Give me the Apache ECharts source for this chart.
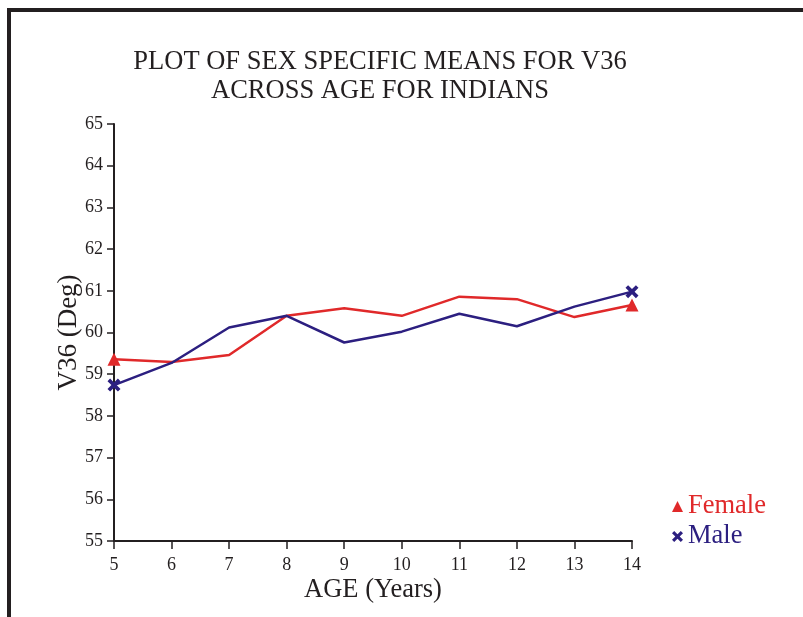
<!DOCTYPE html>
<html>
<head>
<meta charset="utf-8">
<script src="https://cdn.jsdelivr.net/npm/echarts@6/dist/echarts.min.js"></script>
<style>
html,body{margin:0;padding:0;background:#fff;}
#main{width:803px;height:617px;}
</style>
</head>
<body>
<div id="main"></div>
<script>
const ages = [5, 6, 7, 8, 9, 10, 11, 12, 13, 14];
const female = [59.36, 59.29, 59.46, 60.40, 60.58, 60.40, 60.86, 60.80, 60.37, 60.66];
const male = [58.74, 59.27, 60.12, 60.40, 59.76, 60.02, 60.45, 60.15, 60.62, 60.98];
const yTicks = [55, 56, 57, 58, 59, 60, 61, 62, 63, 64, 65];

const RED = '#e0292a';
const BLUE = '#2c1f80';
const FONT = '"Liberation Serif", "Times New Roman", serif';
const XSYM = 'path://M2,0 L5,3 L8,0 L10,2 L7,5 L10,8 L8,10 L5,7 L2,10 L0,8 L3,5 L0,2 Z';

function build(vals, sym, size) {
  return vals.map((v, i) => {
    const end = (i === 0 || i === vals.length - 1);
    return { value: [ages[i], v], symbol: end ? sym : 'none', symbolSize: end ? size : 0 };
  });
}

const chart = echarts.init(document.getElementById('main'), null, { renderer: 'canvas' });
chart.setOption({
  animation: false,
  backgroundColor: '#fff',
  textStyle: { fontFamily: FONT },
  title: {
    text: 'PLOT OF SEX SPECIFIC MEANS FOR V36\nACROSS AGE FOR INDIANS',
    left: 375, top: 43, textAlign: 'center',
    textStyle: { fontFamily: FONT, fontSize: 26.5, fontWeight: 'normal', color: '#231f20', lineHeight: 29 }
  },
  graphic: [{
    type: 'polyline',
    shape: { points: [[9, 640], [9, 10], [820, 10]] },
    style: { stroke: '#231f20', lineWidth: 4, fill: null }
  }],
  legend: {
    orient: 'vertical', left: 667, top: 488,
    itemWidth: 11, itemHeight: 11, itemGap: 3,
    data: [
      { name: 'Female', icon: 'triangle', itemStyle: { color: RED }, textStyle: { color: RED } },
      { name: 'Male', icon: XSYM, itemStyle: { color: BLUE }, textStyle: { color: BLUE } }
    ],
    textStyle: { fontFamily: FONT, fontSize: 26.5 }
  },
  grid: { left: 114, right: 171, top: 124, bottom: 76 },
  xAxis: {
    type: 'value', min: 5, max: 14, interval: 1,
    name: 'AGE (Years)', nameLocation: 'middle', nameGap: 36, nameMoveOverlap: false,
    nameTextStyle: { fontFamily: FONT, fontSize: 26.5, color: '#231f20' },
    axisLine: { lineStyle: { color: '#231f20', width: 2 } },
    axisTick: { length: 8, lineStyle: { color: '#231f20', width: 1.5 } },
    axisLabel: { fontFamily: FONT, fontSize: 18, color: '#231f20', margin: 15 },
    splitLine: { show: false }
  },
  yAxis: {
    type: 'value', min: 55, max: 65, interval: 1,
    name: 'V36 (Deg)', nameLocation: 'middle', nameGap: 32, nameMoveOverlap: false,
    nameTextStyle: { fontFamily: FONT, fontSize: 27, color: '#231f20' },
    axisLine: { show: true, lineStyle: { color: '#231f20', width: 2 } },
    axisTick: { show: true, length: 7, lineStyle: { color: '#231f20', width: 1.5 } },
    axisLabel: { fontFamily: FONT, fontSize: 18, color: '#231f20', margin: 11,
      formatter: v => yTicks.includes(v) ? String(v) : '' },
    splitLine: { show: false }
  },
  series: [
    { name: 'Female', type: 'line', data: build(female, 'triangle', 13),
      lineStyle: { color: RED, width: 2.5 }, itemStyle: { color: RED }, z: 3 },
    { name: 'Male', type: 'line', data: build(male, XSYM, 13),
      lineStyle: { color: BLUE, width: 2.5 }, itemStyle: { color: BLUE }, z: 4 }
  ]
});
</script>
</body>
</html>
